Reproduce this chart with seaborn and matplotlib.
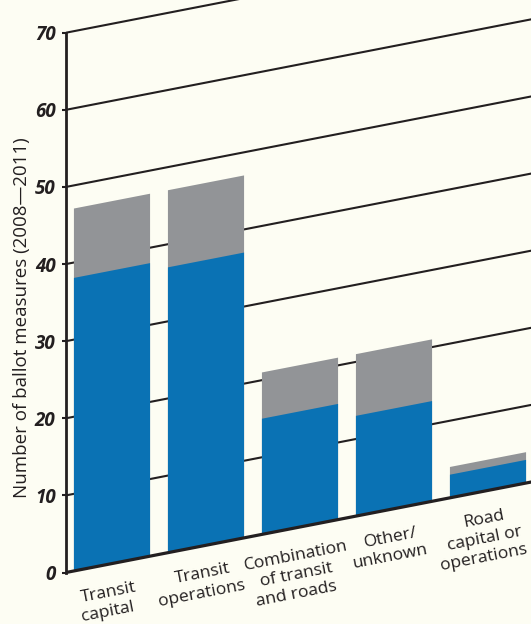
"""
plot.py
-------
Ballot measures 2008-2011 by type, stacked bars drawn on a sheared
(skewed) baseline the way the original print graphic does it.
"""

import numpy as np
import matplotlib
matplotlib.use("Agg")
import matplotlib.pyplot as plt
from matplotlib.transforms import Affine2D
import seaborn as sns

# ─────────────────────────────────────────────────────────────────────────────
# Data
# ─────────────────────────────────────────────────────────────────────────────

categories = [
    "Transit\ncapital",
    "Transit\noperations",
    "Combination\nof transit\nand roads",
    "Other/\nunknown",
    "Road\ncapital or\noperations",
]
lower_counts = [38, 37, 15, 13, 3]   # blue segment
upper_counts = [9, 10, 6, 8, 1]      # grey segment stacked on top
y_ticks = [0, 10, 20, 30, 40, 50, 60, 70]
y_label = "Number of ballot measures (2008\u20142011)"

# ─────────────────────────────────────────────────────────────────────────────
# Style / geometry (pixels, measured on the reference)
# ─────────────────────────────────────────────────────────────────────────────

BG = "#FDFDF3"
BLUE = "#0A72B4"
GREY = "#929497"
INK = "#231F20"

W_PX, H_PX = 531, 624
AX_LEFT_PX = 66          # y axis position
AX_BASE_PX = 572.5       # value 0 (from top)
AX_TOP_PX = 32.7         # value 70 (from top)
BAR_STEP_PX = 94         # distance between bar centres
FIRST_BAR_PX = 112       # centre of first bar
SLOPE = 0.1945           # rise of the grid per pixel to the right
LABEL_DROP_PX = 28       # first label line below the baseline
LABEL_STEP_PX = 19.5     # line spacing of category labels

sns.set_style("white")
plt.rcParams["font.family"] = ["Open Sans", "DejaVu Sans"]

fig = plt.figure(figsize=(W_PX / 100, H_PX / 100), dpi=100, facecolor=BG)
ax = fig.add_axes([
    AX_LEFT_PX / W_PX,
    (H_PX - AX_BASE_PX) / H_PX,
    (W_PX - AX_LEFT_PX) / W_PX,
    (AX_BASE_PX - AX_TOP_PX) / H_PX,
])
ax.set_facecolor(BG)

totals = np.array(lower_counts) + np.array(upper_counts)

# grey = total height, blue drawn over it
sns.barplot(x=categories, y=totals, color=GREY, width=0.81,
            saturation=1, linewidth=0, ax=ax)
sns.barplot(x=categories, y=lower_counts, color=BLUE, width=0.81,
            saturation=1, linewidth=0, ax=ax)

# axis limits in data units
px_per_val = (AX_BASE_PX - AX_TOP_PX) / (y_ticks[-1] - y_ticks[0])
x_left = -(FIRST_BAR_PX - AX_LEFT_PX) / BAR_STEP_PX
x_right = x_left + (W_PX - AX_LEFT_PX) / BAR_STEP_PX
ax.set_xlim(x_left, x_right)
ax.set_ylim(y_ticks[0], y_ticks[-1])

# shear: y' = y + s * (x - x_left), s in value units per category step
s = SLOPE * BAR_STEP_PX / px_per_val
skew = Affine2D(np.array([[1.0, 0.0, 0.0],
                          [s, 1.0, -s * x_left],
                          [0.0, 0.0, 1.0]]))
skewed = skew + ax.transData

for p in ax.patches:
    p.set_transform(skewed)
    p.set_clip_on(False)

# ─────────────────────────────────────────────────────────────────────────────
# Grid, axis, labels
# ─────────────────────────────────────────────────────────────────────────────

for v in y_ticks[1:]:
    ax.plot([x_left, x_right + 1], [v, v], color=INK, lw=1.5,
            transform=skewed, clip_on=False, zorder=0.5,
            solid_capstyle="butt")
ax.plot([x_left, x_right + 1], [0, 0], color=INK, lw=2.3,
        transform=skewed, clip_on=False, zorder=3, solid_capstyle="butt")

for side in ("top", "right", "bottom"):
    ax.spines[side].set_visible(False)
ax.spines["left"].set_color(INK)
ax.spines["left"].set_linewidth(2.0)
ax.spines["left"].set_zorder(4)

ax.set_xticks([])
ax.set_xlabel("")
ax.set_yticks(y_ticks)
ax.set_yticklabels([str(t) for t in y_ticks], fontsize=13.5,
                   fontweight="bold", fontstyle="italic", color=INK)
ax.tick_params(axis="y", length=3, width=1.5, color=INK, pad=4.5,
               direction="out", left=True)
ax.set_ylabel("")

# category labels: each line rotated but stacked straight down (sheared look)
angle = np.degrees(np.arctan(SLOPE))
for i, name in enumerate(categories):
    for j, line in enumerate(name.split("\n")):
        drop = (LABEL_DROP_PX + j * LABEL_STEP_PX) / px_per_val
        ax.text(i - 0.04, -drop, line, transform=skewed, rotation=angle,
                rotation_mode="anchor", ha="center", va="center",
                fontsize=12.6, color=INK, clip_on=False)

fig.text(22 / W_PX, 1 - 318 / H_PX, y_label, rotation=90,
         ha="center", va="center", fontsize=13.5, color=INK)

fig.savefig("out.png", dpi=100, facecolor=BG)
plt.close(fig)
